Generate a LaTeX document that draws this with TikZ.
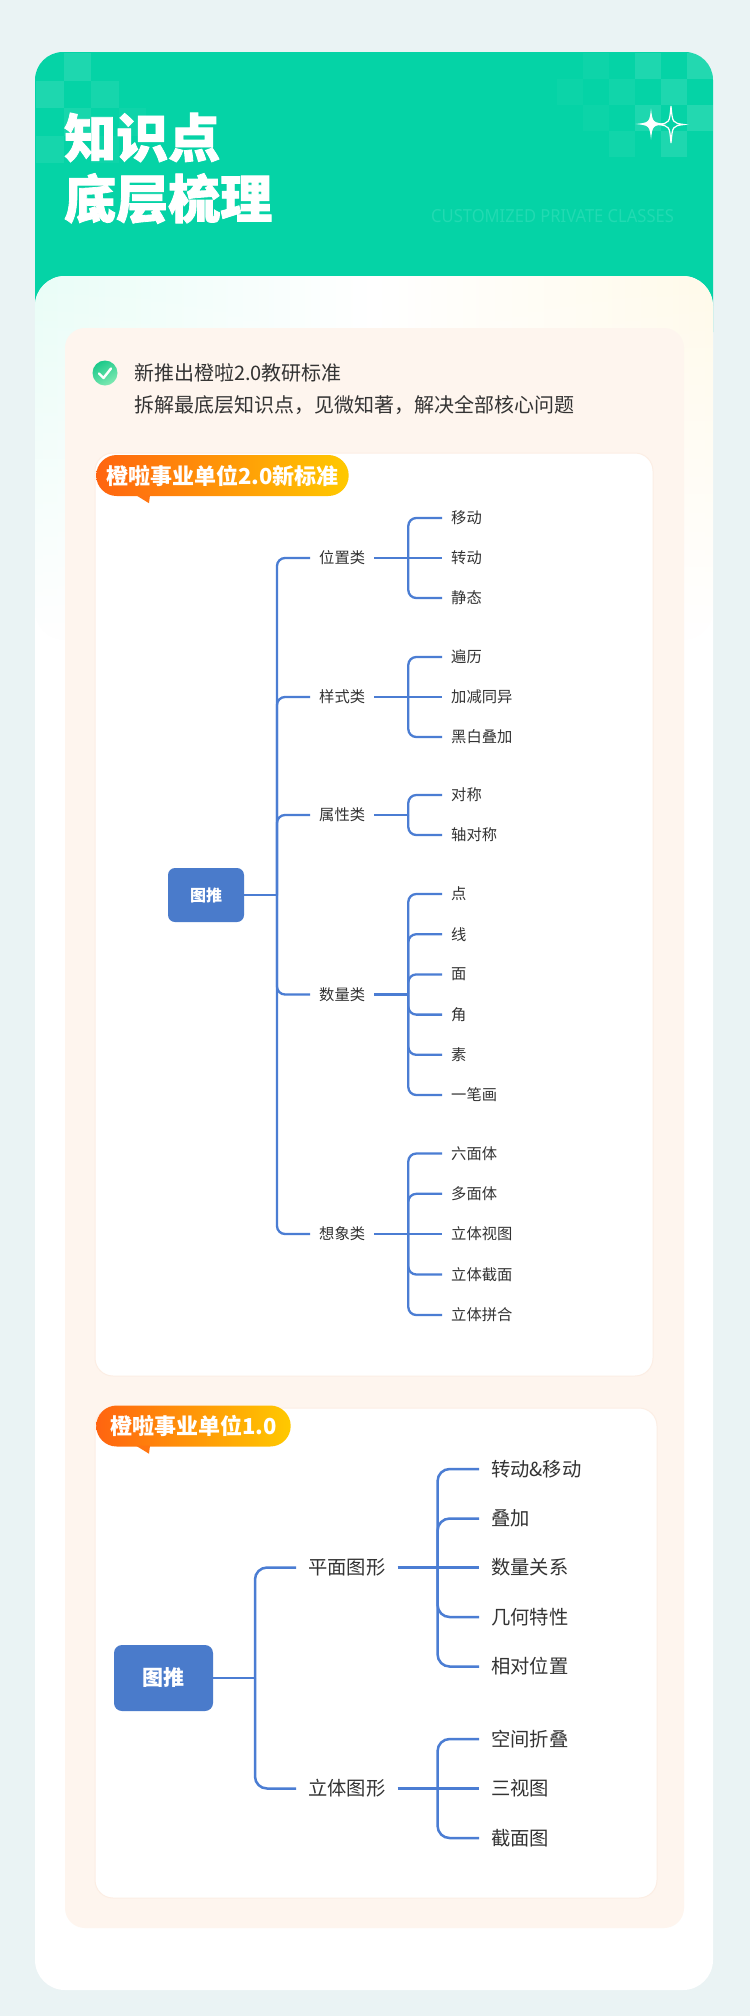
\documentclass[tikz,border=0pt]{standalone}
\usepackage{fontspec}
\setmainfont{Noto Sans CJK SC}
\newfontfamily\titlefont{Noto Sans CJK SC}[BoldFeatures={FakeBold=1.6}]
\newfontfamily\enfont{Noto Sans}
\usepackage{graphicx}
\usetikzlibrary{fadings}
\definecolor{pagebg}{HTML}{EAF3F4}
\definecolor{headgreen}{HTML}{05D3A6}
\definecolor{ghostgreen}{HTML}{22DAB2}
\definecolor{mintwhite}{HTML}{E9FDF7}
\definecolor{creamwhite}{HTML}{FFFAEA}
\definecolor{peach}{HTML}{FEF5EE}
\definecolor{cardedge}{HTML}{FCEEE4}
\definecolor{checkdark}{HTML}{1BC98A}
\definecolor{checklight}{HTML}{7FE9B2}
\definecolor{badgeorange}{HTML}{FF6410}
\definecolor{badgeyellow}{HTML}{FFC900}
\definecolor{tailorange}{HTML}{FF7510}
\definecolor{linkblue}{HTML}{4B7DD3}
\definecolor{boxblue}{HTML}{4A7BCB}
\definecolor{labelgray}{HTML}{333333}
\tikzfading[name=fadedown, top color=transparent!0, bottom color=transparent!100]
\tikzset{
  link/.style={draw=linkblue, line width=2.3pt, rounded corners=8pt},
  bigLink/.style={link, line width=2.5pt, rounded corners=12pt},
  titletext/.style={anchor=west, inner sep=0pt, text=white, font=\titlefont\fontsize{52}{60}\selectfont\bfseries},
  introtext/.style={anchor=west, inner sep=0pt, text=labelgray, font=\fontsize{20}{24}\selectfont},
  badge/.style={anchor=west, left color=badgeorange, right color=badgeyellow, rounded corners=20.5pt,
    minimum height=41pt, inner xsep=14pt, inner ysep=0pt, text=white, font=\fontsize{22}{26}\selectfont\bfseries},
  rootA/.style={fill=boxblue, rounded corners=7pt, text=white, minimum width=76pt, minimum height=54pt,
    inner sep=0pt, font=\fontsize{16}{19}\selectfont\bfseries},
  rootB/.style={rootA, rounded corners=8pt, minimum width=99pt, minimum height=66pt, font=\fontsize{21}{25}\selectfont\bfseries},
  catA/.style={anchor=west, inner xsep=9pt, inner ysep=1pt, text=labelgray, font=\fontsize{15.3}{18}\selectfont},
  catB/.style={catA, inner xsep=12pt, font=\fontsize{19.3}{23}\selectfont}
}
\begin{document}
\begin{tikzpicture}[x=1pt, y=-1pt]
\useasboundingbox (0,0) rectangle (750,2016);
\fill[pagebg] (0,0) rectangle (750,2016);

% Green header with checker corners
\fill[headgreen, rounded corners=28pt] (35,52) rectangle (713,360);
\begin{scope}
\clip[rounded corners=28pt] (35,52) rectangle (713,360);
\foreach \c/\r/\o in {1/0/.10, 0/1/.10, 2/1/.07, 1/2/.08, 3/2/.04, 0/3/.07, 2/3/.04}
  \fill[white, opacity=\o] ({36+27.5*\c},{53+27.5*\r}) rectangle +(27.5,27.5);
\foreach \c/\r/\o in {-2/1/.03, -1/0/.04, -1/2/.03, 1/0/.10, 3/0/.12, 0/1/.05, 2/1/.10, 1/2/.10, 3/2/.12, 0/3/.05, 2/3/.10}
  \fill[white, opacity=\o] ({609+26*\c},{52.7+26*\r}) rectangle +(26,26);
\end{scope}

\node[titletext] (ttlA) at (64,137.5) {知识点};
\node[titletext] (ttlB) at (64,198.5) {底层梳理};
\node[anchor=west, inner sep=0pt, text=ghostgreen, font=\enfont\fontsize{18}{20}\selectfont] (slogan) at (431,216)
  {\scalebox{0.92}[1]{CUSTOMIZED PRIVATE CLASSES}};

% Sparkles
\draw[white, line width=1.2pt] (671,106) .. controls (672.5,123) .. (684,124.5) .. controls (672.5,126) .. (671,143)
  .. controls (669.5,126) .. (658,124.5) .. controls (669.5,123) .. (671,106) -- cycle;
\fill[white] (651,108.5) .. controls (652.5,122.5) .. (666.5,124) .. controls (652.5,125.5) .. (651,139.5)
  .. controls (649.5,125.5) .. (635.5,124) .. controls (649.5,122.5) .. (651,108.5) -- cycle;

% Body panels
\fill[white, rounded corners=30pt] (35,276) rectangle (713,1990);
\shade[left color=mintwhite, right color=creamwhite, middle color=white, path fading=fadedown, rounded corners=30pt]
  (35,276) rectangle (713,640);
\fill[peach, rounded corners=20pt] (65,328) rectangle (684,1928);

% Intro
\shade[top color=checkdark, bottom color=checklight, shading angle=30] (105,373) circle (12.5);
\draw[white, line width=2.4pt, line cap=round, line join=round] (99,373.5) -- (103.5,378) -- (111,368.5);
\node[introtext] (introA) at (134,373) {新推出橙啦2.0教研标准};
\node[introtext] (introB) at (134,405) {拆解最底层知识点，见微知著，解决全部核心问题};

% Card 2.0
\filldraw[fill=white, draw=cardedge, line width=1pt, rounded corners=18pt] (95,453) rectangle (653,1376);
\node[badge, inner xsep=10pt] (tagA) at (96,475.5) {橙啦事业单位2.0新标准};
\fill[tailorange] ([xshift=40pt, yshift=1pt]tagA.south west) -- ++(14,0) -- ++(-1,8) -- cycle;

\node[rootA] (tuiA) at (206,895) {图推};
\coordinate (jA) at (277,895);
\draw[link] (tuiA.east) -- (jA);
\node[catA] (wz) at (310,558) {位置类};
\node[catA] (ys) at (310,697) {样式类};
\node[catA] (sx) at (310,815) {属性类};
\node[catA] (sl) at (310,994.5) {数量类};
\node[catA] (xx) at (310,1234) {想象类};
\foreach \n in {wz,ys,sx,sl,xx} \draw[link] (jA) |- (\n.west);

\node[catA] (wz1) at (442,518) {移动};
\node[catA] (wz2) at (442,558) {转动};
\node[catA] (wz3) at (442,598) {静态};
\coordinate (jwz) at ([xshift=34pt]wz.east);
\draw[link] (wz.east) -- (jwz) -- (wz2.west);
\foreach \n in {wz1,wz3} \draw[link] (jwz) |- (\n.west);

\node[catA] (ys1) at (442,657) {遍历};
\node[catA] (ys2) at (442,697) {加减同异};
\node[catA] (ys3) at (442,737) {黑白叠加};
\coordinate (jys) at ([xshift=34pt]ys.east);
\draw[link] (ys.east) -- (jys) -- (ys2.west);
\foreach \n in {ys1,ys3} \draw[link] (jys) |- (\n.west);

\node[catA] (sx1) at (442,795) {对称};
\node[catA] (sx2) at (442,835) {轴对称};
\coordinate (jsx) at ([xshift=34pt]sx.east);
\draw[link] (sx.east) -- (jsx);
\foreach \n in {sx1,sx2} \draw[link] (jsx) |- (\n.west);

\node[catA] (sl1) at (442,894) {点};
\node[catA] (sl2) at (442,934.2) {线};
\node[catA] (sl3) at (442,974.4) {面};
\node[catA] (sl4) at (442,1014.6) {角};
\node[catA] (sl5) at (442,1054.8) {素};
\node[catA] (sl6) at (442,1095) {一笔画};
\coordinate (jsl) at ([xshift=34pt]sl.east);
\draw[link] (sl.east) -- (jsl);
\foreach \n in {sl1,sl2,sl3,sl4,sl5,sl6} \draw[link] (jsl) |- (\n.west);

\node[catA] (xx1) at (442,1153.5) {六面体};
\node[catA] (xx2) at (442,1193.8) {多面体};
\node[catA] (xx3) at (442,1234) {立体视图};
\node[catA] (xx4) at (442,1274.5) {立体截面};
\node[catA] (xx5) at (442,1315) {立体拼合};
\coordinate (jxx) at ([xshift=34pt]xx.east);
\draw[link] (xx.east) -- (jxx) -- (xx3.west);
\foreach \n in {xx1,xx2,xx4,xx5} \draw[link] (jxx) |- (\n.west);

% Card 1.0
\filldraw[fill=white, draw=cardedge, line width=1pt, rounded corners=18pt] (95,1408) rectangle (657,1898);
\node[badge] (tagB) at (96,1426) {橙啦事业单位1.0};
\fill[tailorange] ([xshift=40pt, yshift=1pt]tagB.south west) -- ++(14,0) -- ++(-1,8) -- cycle;

\node[rootB] (tuiB) at (163.5,1678) {图推};
\coordinate (jB) at (255,1678);
\draw[bigLink] (tuiB.east) -- (jB);
\node[catB] (pm) at (296,1567.5) {平面图形};
\node[catB] (lt) at (296,1788.5) {立体图形};
\foreach \n in {pm,lt} \draw[bigLink] (jB) |- (\n.west);

\node[catB] (pm1) at (479,1469) {转动\&移动};
\node[catB] (pm2) at (479,1518.5) {叠加};
\node[catB] (pm3) at (479,1567.5) {数量关系};
\node[catB] (pm4) at (479,1617) {几何特性};
\node[catB] (pm5) at (479,1666.5) {相对位置};
\coordinate (jpm) at ([xshift=40pt]pm.east);
\draw[bigLink] (pm.east) -- (jpm) -- (pm3.west);
\foreach \n in {pm1,pm2,pm4,pm5} \draw[bigLink] (jpm) |- (\n.west);

\node[catB] (lt1) at (479,1739) {空间折叠};
\node[catB] (lt2) at (479,1788.5) {三视图};
\node[catB] (lt3) at (479,1838) {截面图};
\coordinate (jlt) at ([xshift=40pt]lt.east);
\draw[bigLink] (lt.east) -- (jlt) -- (lt2.west);
\foreach \n in {lt1,lt3} \draw[bigLink] (jlt) |- (\n.west);
\end{tikzpicture}
\end{document}
